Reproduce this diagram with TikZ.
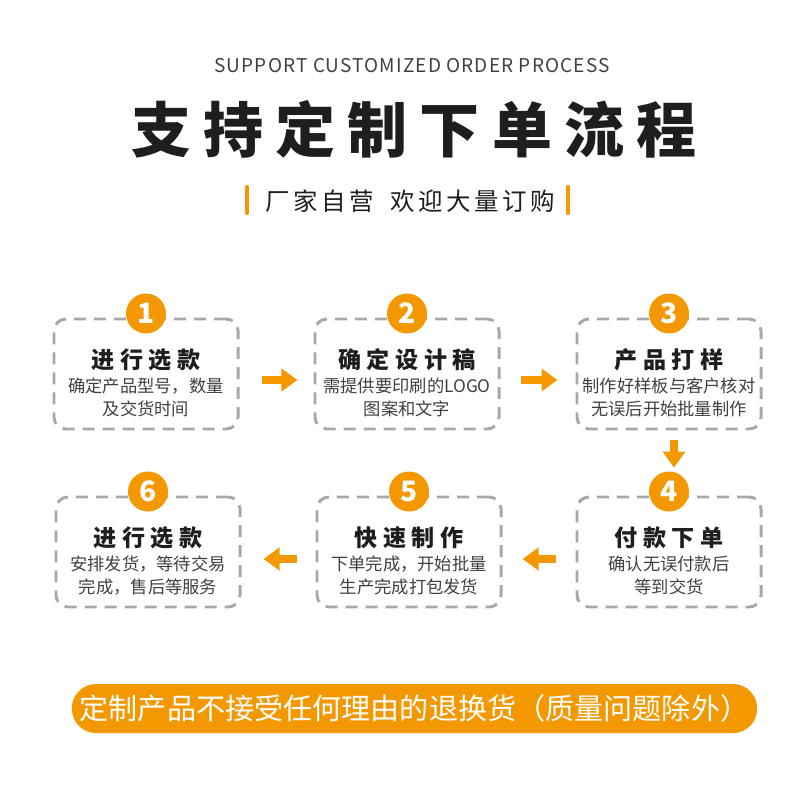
\documentclass[tikz,border=0pt]{standalone}
\usepackage{fontspec}
\setmainfont{Noto Sans CJK SC}
\usetikzlibrary{arrows.meta, positioning}
\definecolor{accent}{HTML}{F39800}
\definecolor{dashgray}{HTML}{A8A8A8}
\definecolor{ink}{HTML}{1E1E1E}

\begin{document}
\begin{tikzpicture}[x=0.025cm, y=-0.025cm,
    stepbox/.style={rectangle, draw=dashgray, line width=2.1pt, dash pattern=on 0.3cm off 0.2cm, rounded corners=0.3cm, minimum width=4.6cm, minimum height=2.75cm},
    badge/.style={circle, fill=accent, minimum size=1cm, inner sep=0pt, text=white, font=\fontsize{20}{20}\selectfont\bfseries},
    steptitle/.style={inner sep=0pt, text=ink, font=\fontsize{16.4}{18}\selectfont\bfseries\addfontfeature{LetterSpace=24}},
    stepnote/.style={align=center, inner sep=0pt, text=ink!85, font=\fontsize{12.3}{16.4}\selectfont},
    flow/.style={-{Triangle[length=0.4cm, width=0.55cm]}, line width=5.7pt, accent},
    banner/.style={rectangle, fill=accent, rounded corners=0.6cm, minimum width=17.125cm, minimum height=1.225cm, inner sep=0pt, text=white, font=\fontsize{20.7}{22}\selectfont}
]
\useasboundingbox (0,0) rectangle (800,800);

% header
\node[text=ink!85, font=\fontsize{13.5}{15}\selectfont\addfontfeature{LetterSpace=6}] (entitle) at (412,66) {SUPPORT CUSTOMIZED ORDER PROCESS};
\node[text=ink, font=\fontsize{42.7}{48}\selectfont\bfseries\addfontfeature{LetterSpace=20}] (title) at (414,129) {支持定制下单流程};
\node[text=ink, font=\fontsize{17.4}{20}\selectfont\addfontfeature{LetterSpace=14}] (slogan) at (410,201) {厂家自营\hspace{0.7em}欢迎大量订购};
\draw[accent, line width=3pt, line cap=round] (247,187) -- (247,213);
\draw[accent, line width=3pt, line cap=round] (568,187) -- (568,213);

% steps
\node[stepbox] (s1) at (146,374) {};
\node[stepbox] (s2) at (407,374) {};
\node[stepbox] (s3) at (669,374) {};
\node[stepbox] (s4) at (669,552) {};
\node[stepbox] (s5) at (409,552) {};
\node[stepbox] (s6) at (148,552) {};

\node[badge] (n1) at ([yshift=0.1cm]s1.north) {1};
\node[badge] (n2) at ([yshift=0.1cm]s2.north) {2};
\node[badge] (n3) at ([yshift=0.1cm]s3.north) {3};
\node[badge] (n4) at ([yshift=0.1cm]s4.north) {4};
\node[badge] (n5) at ([yshift=0.1cm]s5.north) {5};
\node[badge] (n6) at ([yshift=0.1cm]s6.north) {6};

\node[steptitle] (t1) at ([yshift=-1.05cm]s1.north) {进行选款};
\node[steptitle] (t2) at ([yshift=-1.05cm]s2.north) {确定设计稿};
\node[steptitle] (t3) at ([yshift=-1.05cm]s3.north) {产品打样};
\node[steptitle] (t4) at ([yshift=-1.05cm]s4.north) {付款下单};
\node[steptitle] (t5) at ([yshift=-1.05cm]s5.north) {快速制作};
\node[steptitle] (t6) at ([yshift=-1.05cm]s6.north) {进行选款};

\node[stepnote] (d1) at ([yshift=-2cm]s1.north) {确定产品型号，数量\\及交货时间};
\node[stepnote] (d2) at ([yshift=-2cm]s2.north) {需提供要印刷的LOGO\\图案和文字};
\node[stepnote] (d3) at ([yshift=-2cm]s3.north) {制作好样板与客户核对\\无误后开始批量制作};
\node[stepnote] (d4) at ([yshift=-2cm]s4.north) {确认无误付款后\\等到交货};
\node[stepnote] (d5) at ([yshift=-2cm]s5.north) {下单完成，开始批量\\生产完成打包发货};
\node[stepnote] (d6) at ([yshift=-2cm]s6.north) {安排发货，等待交易\\完成，售后等服务};

\draw[flow, shorten <=0.55cm, shorten >=0.4cm] ([yshift=-0.15cm]s1.east) -- ([yshift=-0.15cm]s2.west);
\draw[flow, shorten <=0.5cm, shorten >=0.45cm] ([yshift=-0.15cm]s2.east) -- ([yshift=-0.15cm]s3.west);
\draw[flow, shorten <=0.25cm, shorten >=0.7cm] ([xshift=0.125cm]s3.south) -- ([xshift=0.125cm]s4.north);
\draw[flow, shorten <=0.5cm, shorten >=0.5cm] ([yshift=-0.175cm]s4.west) -- ([yshift=-0.175cm]s5.east);
\draw[flow, shorten <=0.475cm, shorten >=0.55cm] ([yshift=-0.175cm]s5.west) -- ([yshift=-0.175cm]s6.east);

% footer
\node[banner] (notice) at (414.5,708.5) {定制产品不接受任何理由的退换货（质量问题除外）};
\end{tikzpicture}
\end{document}
